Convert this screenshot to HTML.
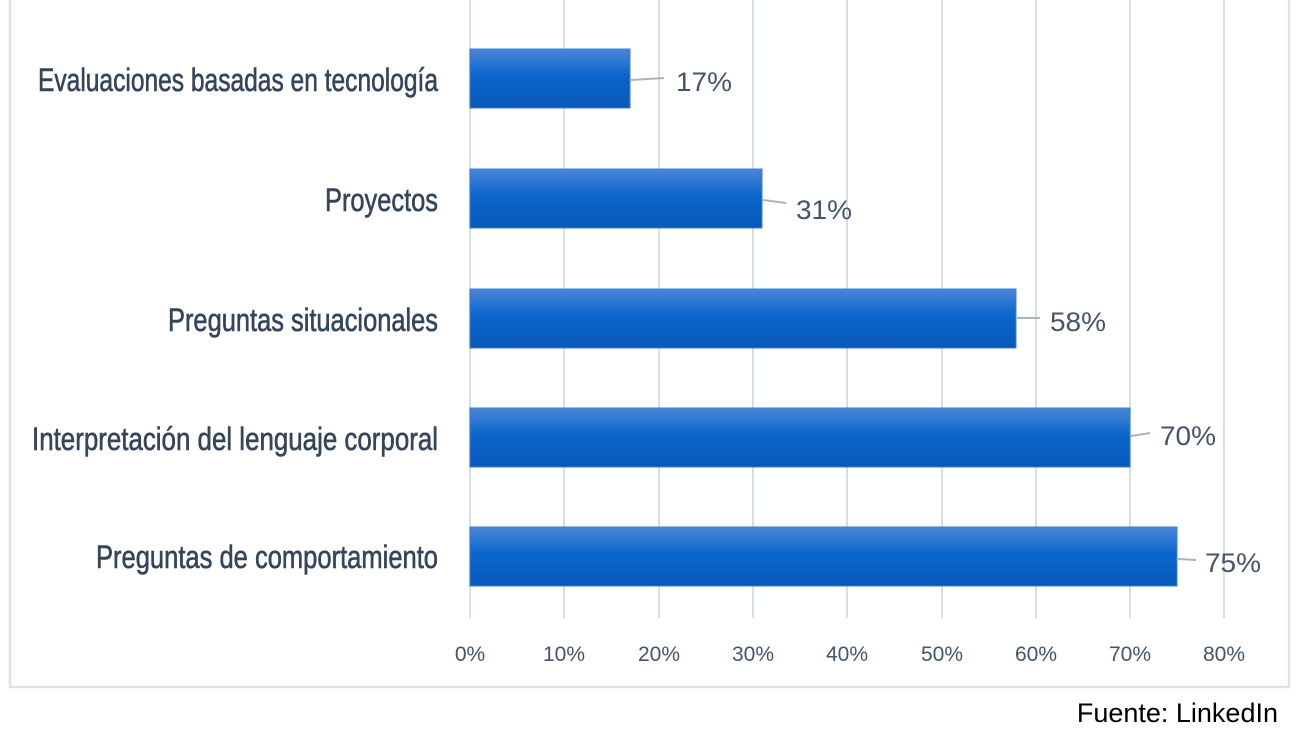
<!DOCTYPE html>
<html><head><meta charset="utf-8"><style>body{margin:0;background:#fff}svg{display:block}</style></head><body>
<svg width="1300" height="738" xmlns="http://www.w3.org/2000/svg" font-family="Liberation Sans, sans-serif">
<defs><linearGradient id="g" x1="0" y1="0" x2="0" y2="1">
<stop offset="0" stop-color="#4a86d6"/><stop offset="0.45" stop-color="#0a66cc"/><stop offset="1" stop-color="#0858b8"/></linearGradient></defs>
<rect x="10" y="-2" width="1279" height="689" fill="none" stroke="#dbe2ea" stroke-width="2.5"/>
<g stroke="#d6dee8" stroke-width="2">
<line x1="470" y1="0" x2="470" y2="618"/><line x1="564" y1="0" x2="564" y2="618"/><line x1="659" y1="0" x2="659" y2="618"/><line x1="753" y1="0" x2="753" y2="618"/><line x1="847" y1="0" x2="847" y2="618"/><line x1="942" y1="0" x2="942" y2="618"/><line x1="1036" y1="0" x2="1036" y2="618"/><line x1="1130" y1="0" x2="1130" y2="618"/><line x1="1224" y1="0" x2="1224" y2="618"/>
</g>
<g fill="url(#g)" stroke="#3f7fd0" stroke-width="1">
<rect x="470" y="49" width="160" height="59"/>
<rect x="470" y="169" width="292" height="59"/>
<rect x="470" y="289" width="546" height="59"/>
<rect x="470" y="408" width="660" height="59"/>
<rect x="470" y="527" width="707" height="59"/>
</g>
<g stroke="#a7b4c2" stroke-width="2" fill="none">
<line x1="631" y1="80" x2="664" y2="78"/>
<line x1="763" y1="200" x2="786" y2="203"/>
<line x1="1017" y1="318" x2="1040" y2="318"/>
<line x1="1131" y1="436" x2="1150" y2="433"/>
<line x1="1178" y1="559" x2="1196" y2="560"/>
</g>
<g fill="#44546a" font-size="27">
<text x="676" y="91" textLength="56" lengthAdjust="spacingAndGlyphs">17%</text>
<text x="796" y="219" textLength="56" lengthAdjust="spacingAndGlyphs">31%</text>
<text x="1050" y="331" textLength="56" lengthAdjust="spacingAndGlyphs">58%</text>
<text x="1160" y="445" textLength="56" lengthAdjust="spacingAndGlyphs">70%</text>
<text x="1205" y="572" textLength="56" lengthAdjust="spacingAndGlyphs">75%</text>
</g>
<g fill="#34445a" font-size="32" text-anchor="end" stroke="#34445a" stroke-width="0.6">
<text x="438" y="91" textLength="400" lengthAdjust="spacingAndGlyphs">Evaluaciones basadas en tecnología</text>
<text x="438" y="211" textLength="113" lengthAdjust="spacingAndGlyphs">Proyectos</text>
<text x="438" y="331" textLength="270" lengthAdjust="spacingAndGlyphs">Preguntas situacionales</text>
<text x="438" y="450" textLength="406" lengthAdjust="spacingAndGlyphs">Interpretación del lenguaje corporal</text>
<text x="438" y="568" textLength="342" lengthAdjust="spacingAndGlyphs">Preguntas de comportamiento</text>
</g>
<g fill="#44546a" font-size="21" text-anchor="middle">
<text x="470" y="661">0%</text><text x="564" y="661">10%</text><text x="659" y="661">20%</text><text x="753" y="661">30%</text><text x="847" y="661">40%</text><text x="942" y="661">50%</text><text x="1036" y="661">60%</text><text x="1130" y="661">70%</text><text x="1224" y="661">80%</text>
</g>
<text x="1278" y="722" text-anchor="end" font-size="27" fill="#000">Fuente: LinkedIn</text>
</svg>
</body></html>
